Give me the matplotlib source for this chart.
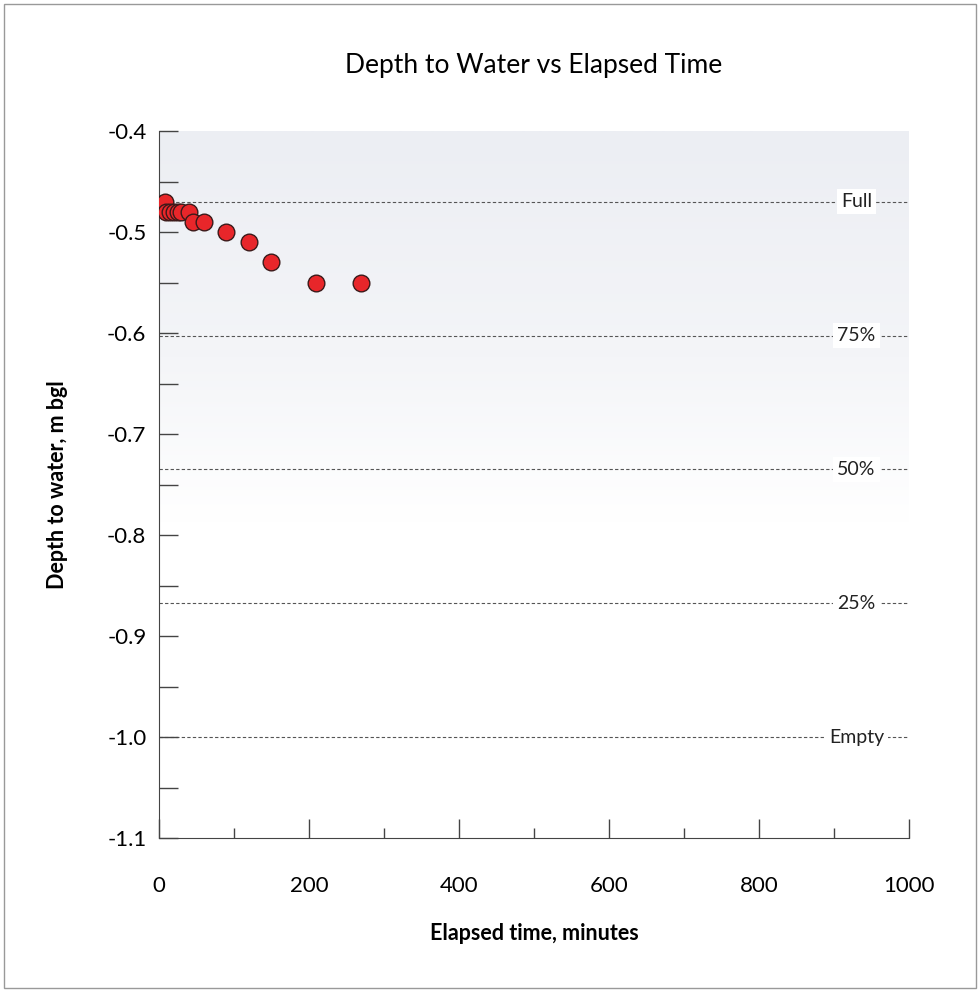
import numpy as np
import matplotlib
matplotlib.use('Agg')
import matplotlib.pyplot as plt
from matplotlib.ticker import MultipleLocator, FormatStrFormatter
from matplotlib.patches import Rectangle

plt.rcParams['font.family'] = ['Lato', 'DejaVu Sans']
plt.rcParams['axes.unicode_minus'] = False

# elapsed time (minutes) and depth to water (m bgl)
time_min = [8, 10, 15, 20, 25, 30, 40, 45, 60, 90, 120, 150, 210, 270]
depth_m = [-0.47, -0.48, -0.48, -0.48, -0.48, -0.48, -0.48, -0.49, -0.49,
           -0.50, -0.51, -0.53, -0.55, -0.55]

# reference levels
level_names = ['Full', '75%', '50%', '25%', 'Empty']
level_depths = [-0.47, -0.6025, -0.735, -0.8675, -1.0]

fig = plt.figure(figsize=(9.8, 9.92), dpi=100)
ax = fig.add_axes([0.1622, 0.1552, 0.7653, 0.7127])

# soft background fading from grey-blue at top to white
grad = np.linspace(0, 1, 256).reshape(-1, 1)
cmap = matplotlib.colors.LinearSegmentedColormap.from_list(
    'bg', [(0, '#ffffff'), (0.45, '#ffffff'), (0.68, '#f4f5f8'), (1, '#eceef3')])
ax.imshow(grad, extent=[0, 1000, -1.1, -0.4], origin='lower', aspect='auto',
          cmap=cmap, zorder=0)

for name, d in zip(level_names, level_depths):
    ax.plot([0, 1000], [d, d], ls=(0, (3, 2)), color='#555555', lw=0.8, zorder=1)
    ax.text(930, d, name, ha='center', va='center', fontsize=14, color='#222222',
            bbox=dict(facecolor='white', edgecolor='none', pad=3), zorder=2)

ax.plot(time_min, depth_m, 'o', ms=12, mfc='#e8262a', mec='#3a1a1a', mew=1.0,
        ls='none', zorder=3)

ax.set_xlim(0, 1000)
ax.set_ylim(-1.1, -0.4)
ax.xaxis.set_major_locator(MultipleLocator(200))
ax.xaxis.set_minor_locator(MultipleLocator(100))
ax.yaxis.set_major_locator(MultipleLocator(0.1))
ax.yaxis.set_minor_locator(MultipleLocator(0.05))
ax.yaxis.set_major_formatter(FormatStrFormatter('%.1f'))

ax.tick_params(axis='x', which='major', direction='in', length=14, width=1,
               pad=27, labelsize=16, color='#444444')
ax.tick_params(axis='x', which='minor', direction='in', length=7, width=1, color='#444444')
ax.tick_params(axis='y', which='major', direction='in', length=14, width=1,
               pad=9, labelsize=16, color='#444444')
ax.tick_params(axis='y', which='minor', direction='in', length=14, width=1, color='#444444')

for s in ['top', 'right']:
    ax.spines[s].set_visible(False)
for s in ['left', 'bottom']:
    ax.spines[s].set_color('#444444')

ax.set_title('Depth to Water vs Elapsed Time', fontsize=19, pad=42)
ax.set_xlabel('Elapsed time, minutes', fontsize=15.5, fontweight='bold', labelpad=20)
ax.set_ylabel('Depth to water, m bgl', fontsize=15.5, fontweight='bold', labelpad=28)

# outer frame
fig.patches.append(Rectangle((0.004, 0.004), 0.992, 0.992, transform=fig.transFigure,
                             fill=False, edgecolor='#999999', lw=1))

fig.savefig('out.png', dpi=100)
